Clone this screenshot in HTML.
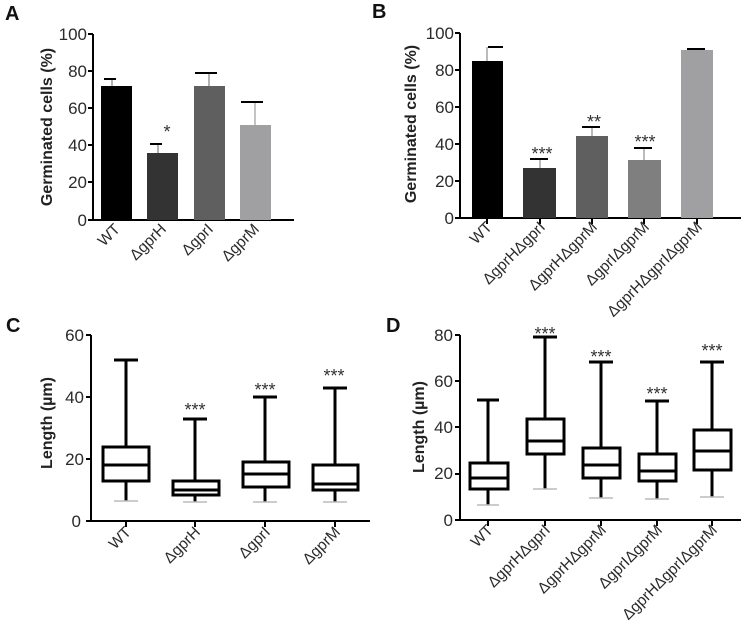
<!DOCTYPE html>
<html><head><meta charset="utf-8"><style>
html,body{margin:0;padding:0;background:#fff;}
svg{display:block;font-family:"Liberation Sans",Arial,sans-serif;}
.t{font-size:17px;fill:#2b2b2b;}
.xl{font-size:15.5px;fill:#2b2b2b;}
.yl{font-size:16px;font-weight:bold;fill:#222;}
.pl{font-size:20px;font-weight:bold;fill:#111;}
.st{font-size:18px;fill:#333;}
</style></head><body>
<svg width="741" height="639" viewBox="0 0 741 639">
<text class="pl" x="5" y="20">A</text>
<text class="pl" x="372" y="18">B</text>
<text class="pl" x="6" y="332">C</text>
<text class="pl" x="386" y="332">D</text>

<!-- A -->
<g>
<text class="yl" transform="translate(52,127) rotate(-90)" text-anchor="middle">Germinated cells (%)</text>
<g class="t" text-anchor="end">
<text x="87" y="40">100</text><text x="87" y="77">80</text><text x="87" y="114">60</text>
<text x="87" y="151">40</text><text x="87" y="188">20</text><text x="87" y="226">0</text>
</g>
<g stroke="#000" stroke-width="2">
<line x1="93" y1="34" x2="93" y2="221"/>
<line x1="88" y1="34" x2="93" y2="34"/><line x1="88" y1="71" x2="93" y2="71"/>
<line x1="88" y1="108" x2="93" y2="108"/><line x1="88" y1="145" x2="93" y2="145"/>
<line x1="88" y1="182" x2="93" y2="182"/><line x1="88" y1="220" x2="294" y2="220"/>
</g>
<rect x="101" y="86" width="31" height="134" fill="#000"/>
<rect x="147" y="153" width="31" height="67" fill="#333"/>
<rect x="194" y="86" width="31" height="134" fill="#5f5f5f"/>
<rect x="240" y="125" width="31" height="95" fill="#a0a0a2"/>
<g stroke="#000" stroke-width="2">
<line x1="112" y1="79" x2="112" y2="86" stroke="#666" stroke-width="1"/><line x1="104" y1="79" x2="116" y2="79"/>
<line x1="158" y1="144" x2="158" y2="153" stroke="#666" stroke-width="1"/><line x1="150" y1="144" x2="162" y2="144"/>
<line x1="209" y1="73" x2="209" y2="86" stroke="#666" stroke-width="1"/><line x1="195" y1="73" x2="217" y2="73"/>
<line x1="255" y1="102" x2="255" y2="125" stroke="#888" stroke-width="1"/><line x1="241" y1="102" x2="263" y2="102"/>
</g>
<text class="st" x="167" y="138" text-anchor="middle">*</text>
<g class="xl" text-anchor="end">
<text transform="translate(121,230) rotate(-45)">WT</text>
<text transform="translate(167,230) rotate(-45)">ΔgprH</text>
<text transform="translate(214,230) rotate(-45)">ΔgprI</text>
<text transform="translate(260,230) rotate(-45)">ΔgprM</text>
</g>
</g>

<!-- B -->
<g>
<text class="yl" transform="translate(416,124) rotate(-90)" text-anchor="middle">Germinated cells (%)</text>
<g class="t" text-anchor="end">
<text x="454" y="39">100</text><text x="454" y="76">80</text><text x="454" y="113">60</text>
<text x="454" y="150">40</text><text x="454" y="187">20</text><text x="454" y="224">0</text>
</g>
<g stroke="#000" stroke-width="2">
<line x1="460" y1="33" x2="460" y2="219"/>
<line x1="455" y1="33" x2="460" y2="33"/><line x1="455" y1="70" x2="460" y2="70"/>
<line x1="455" y1="107" x2="460" y2="107"/><line x1="455" y1="144" x2="460" y2="144"/>
<line x1="455" y1="181" x2="460" y2="181"/><line x1="455" y1="218" x2="741" y2="218"/>
<line x1="487" y1="218" x2="487" y2="224"/><line x1="540" y1="218" x2="540" y2="224"/>
<line x1="592" y1="218" x2="592" y2="224"/><line x1="644" y1="218" x2="644" y2="224"/>
<line x1="697" y1="218" x2="697" y2="224"/>
</g>
<rect x="472" y="61" width="31" height="157" fill="#000"/>
<rect x="523" y="168" width="33" height="50" fill="#333"/>
<rect x="576" y="136" width="32" height="82" fill="#5f5f5f"/>
<rect x="628" y="160" width="33" height="58" fill="#7f7f7f"/>
<rect x="681" y="50" width="32" height="168" fill="#a0a0a2"/>
<g stroke="#000" stroke-width="2">
<line x1="487" y1="47" x2="487" y2="61" stroke="#777" stroke-width="1"/><line x1="488" y1="47" x2="503" y2="47"/>
<line x1="540" y1="159" x2="540" y2="168" stroke="#777" stroke-width="1"/><line x1="530" y1="159" x2="548" y2="159"/>
<line x1="592" y1="127" x2="592" y2="136" stroke="#777" stroke-width="1"/><line x1="582" y1="127" x2="600" y2="127"/>
<line x1="644" y1="148" x2="644" y2="160" stroke="#777" stroke-width="1"/><line x1="634" y1="148" x2="652" y2="148"/>
<line x1="687" y1="49" x2="705" y2="49"/>
</g>
<g class="st" text-anchor="middle">
<text x="542" y="160">***</text><text x="594" y="128">**</text><text x="645" y="148">***</text>
</g>
<g class="xl" text-anchor="end">
<text transform="translate(493,228) rotate(-45)">WT</text>
<text transform="translate(546,228) rotate(-45)">ΔgprHΔgprI</text>
<text transform="translate(598,228) rotate(-45)">ΔgprHΔgprM</text>
<text transform="translate(650,228) rotate(-45)">ΔgprIΔgprM</text>
<text transform="translate(703,228) rotate(-45)">ΔgprHΔgprIΔgprM</text>
</g>
</g>

<!-- C -->
<g>
<text class="yl" transform="translate(52,423) rotate(-90)" text-anchor="middle">Length (µm)</text>
<g class="t" text-anchor="end">
<text x="84" y="341">60</text><text x="84" y="403">40</text><text x="84" y="465">20</text><text x="81" y="527">0</text>
</g>
<g stroke="#000" stroke-width="2" fill="none">
<line x1="91" y1="335" x2="91" y2="522"/>
<line x1="86" y1="335" x2="91" y2="335"/><line x1="86" y1="397" x2="91" y2="397"/>
<line x1="86" y1="459" x2="91" y2="459"/><line x1="86" y1="521" x2="370" y2="521"/>
<line x1="126" y1="521" x2="126" y2="527"/><line x1="195" y1="521" x2="195" y2="527"/>
<line x1="265" y1="521" x2="265" y2="527"/><line x1="335" y1="521" x2="335" y2="527"/>
</g>
<g stroke="#000" stroke-width="3" fill="none">
<line x1="126" y1="360" x2="126" y2="447"/><line x1="126" y1="481" x2="126" y2="501"/>
<line x1="114" y1="360" x2="138" y2="360"/>
<rect x="103" y="447" width="46" height="34"/><line x1="103" y1="465" x2="149" y2="465"/>
<line x1="195" y1="419" x2="195" y2="481"/><line x1="195" y1="495" x2="195" y2="502"/>
<line x1="183" y1="419" x2="207" y2="419"/>
<rect x="173" y="481" width="46" height="14"/><line x1="173" y1="490" x2="219" y2="490"/>
<line x1="265" y1="397" x2="265" y2="462"/><line x1="265" y1="487" x2="265" y2="502"/>
<line x1="253" y1="397" x2="277" y2="397"/>
<rect x="243" y="462" width="46" height="25"/><line x1="243" y1="474" x2="289" y2="474"/>
<line x1="335" y1="388" x2="335" y2="465"/><line x1="335" y1="490" x2="335" y2="502"/>
<line x1="323" y1="388" x2="347" y2="388"/>
<rect x="313" y="465" width="45" height="25"/><line x1="313" y1="484" x2="358" y2="484"/>
</g>
<g stroke="#bbb" stroke-width="1.5">
<line x1="114" y1="501" x2="138" y2="501"/><line x1="183" y1="502" x2="207" y2="502"/>
<line x1="253" y1="502" x2="277" y2="502"/><line x1="323" y1="502" x2="347" y2="502"/>
</g>
<g class="st" text-anchor="middle">
<text x="195" y="416">***</text><text x="265" y="396">***</text><text x="334" y="382">***</text>
</g>
<g class="xl" text-anchor="end">
<text transform="translate(132,533) rotate(-45)">WT</text>
<text transform="translate(201,533) rotate(-45)">ΔgprH</text>
<text transform="translate(271,533) rotate(-45)">ΔgprI</text>
<text transform="translate(341,533) rotate(-45)">ΔgprM</text>
</g>
</g>

<!-- D -->
<g>
<text class="yl" transform="translate(424,427) rotate(-90)" text-anchor="middle">Length (µm)</text>
<g class="t" text-anchor="end">
<text x="453" y="341">80</text><text x="453" y="387">60</text><text x="453" y="433">40</text>
<text x="453" y="479">20</text><text x="453" y="526">0</text>
</g>
<g stroke="#000" stroke-width="2" fill="none">
<line x1="460" y1="335" x2="460" y2="521"/>
<line x1="455" y1="335" x2="460" y2="335"/><line x1="455" y1="381" x2="460" y2="381"/>
<line x1="455" y1="427" x2="460" y2="427"/><line x1="455" y1="474" x2="460" y2="474"/>
<line x1="455" y1="520" x2="741" y2="520"/>
<line x1="488" y1="520" x2="488" y2="526"/><line x1="545" y1="520" x2="545" y2="526"/>
<line x1="601" y1="520" x2="601" y2="526"/><line x1="657" y1="520" x2="657" y2="526"/>
<line x1="712" y1="520" x2="712" y2="526"/>
</g>
<g stroke="#000" stroke-width="3" fill="none">
<line x1="488" y1="400" x2="488" y2="463"/><line x1="488" y1="489" x2="488" y2="505"/>
<line x1="477" y1="400" x2="499" y2="400"/>
<rect x="470" y="463" width="38" height="26"/><line x1="470" y1="478" x2="508" y2="478"/>
<line x1="545" y1="337" x2="545" y2="419"/><line x1="545" y1="454" x2="545" y2="489"/>
<line x1="533" y1="337" x2="557" y2="337"/>
<rect x="527" y="419" width="37" height="35"/><line x1="527" y1="441" x2="564" y2="441"/>
<line x1="601" y1="362" x2="601" y2="448"/><line x1="601" y1="478" x2="601" y2="498"/>
<line x1="589" y1="362" x2="613" y2="362"/>
<rect x="583" y="448" width="37" height="30"/><line x1="583" y1="465" x2="620" y2="465"/>
<line x1="657" y1="401" x2="657" y2="454"/><line x1="657" y1="481" x2="657" y2="499"/>
<line x1="645" y1="401" x2="669" y2="401"/>
<rect x="639" y="454" width="37" height="27"/><line x1="639" y1="471" x2="676" y2="471"/>
<line x1="712" y1="362" x2="712" y2="430"/><line x1="712" y1="470" x2="712" y2="497"/>
<line x1="700" y1="362" x2="724" y2="362"/>
<rect x="694" y="430" width="37" height="40"/><line x1="694" y1="451" x2="731" y2="451"/>
</g>
<g stroke="#bbb" stroke-width="1.5">
<line x1="477" y1="505" x2="499" y2="505"/><line x1="533" y1="489" x2="557" y2="489"/>
<line x1="589" y1="498" x2="613" y2="498"/><line x1="645" y1="499" x2="669" y2="499"/>
<line x1="700" y1="497" x2="724" y2="497"/>
</g>
<g class="st" text-anchor="middle">
<text x="545" y="340">***</text><text x="601" y="363">***</text>
<text x="657" y="400">***</text><text x="712" y="357">***</text>
</g>
<g class="xl" text-anchor="end">
<text transform="translate(494,531) rotate(-45)">WT</text>
<text transform="translate(551,531) rotate(-45)">ΔgprHΔgprI</text>
<text transform="translate(607,531) rotate(-45)">ΔgprHΔgprM</text>
<text transform="translate(663,531) rotate(-45)">ΔgprIΔgprM</text>
<text transform="translate(718,531) rotate(-45)">ΔgprHΔgprIΔgprM</text>
</g>
</g>
</svg>
</body></html>
